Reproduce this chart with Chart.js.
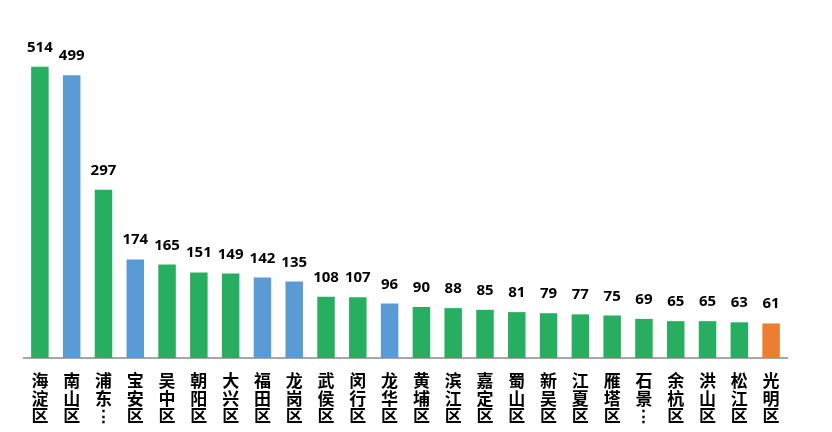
<!DOCTYPE html>
<html>
<head>
<meta charset="utf-8">
<script src="https://cdn.jsdelivr.net/npm/chart.js@4/dist/chart.umd.min.js"></script>
<style>
  html, body { margin: 0; padding: 0; background: #ffffff; }
  #wrap { width: 832px; height: 432px; }
</style>
</head>
<body>
<div id="wrap"><canvas id="c" width="832" height="432"></canvas></div>
<script>
const categories = ['海淀区','南山区','浦东新区','宝安区','吴中区','朝阳区','大兴区','福田区','龙岗区','武侯区','闵行区','龙华区','黄埔区','滨江区','嘉定区','蜀山区','新吴区','江夏区','雁塔区','石景山区','余杭区','洪山区','松江区','光明区'];
const tickLabels = [['海','淀','区'],['南','山','区'],['浦','东','⋮'],['宝','安','区'],['吴','中','区'],['朝','阳','区'],['大','兴','区'],['福','田','区'],['龙','岗','区'],['武','侯','区'],['闵','行','区'],['龙','华','区'],['黄','埔','区'],['滨','江','区'],['嘉','定','区'],['蜀','山','区'],['新','吴','区'],['江','夏','区'],['雁','塔','区'],['石','景','⋮'],['余','杭','区'],['洪','山','区'],['松','江','区'],['光','明','区']];
const values = [514,499,297,174,165,151,149,142,135,108,107,96,90,88,85,81,79,77,75,69,65,65,63,61];
const groups = ['g','b','g','b','g','g','g','b','b','g','g','b','g','g','g','g','g','g','g','g','g','g','g','o'];
const palette = { g: '#27ae60', b: '#5b9bd5', o: '#ed7d31' };

const valueLabels = {
  id: 'valueLabels',
  afterDatasetsDraw(chart) {
    const ctx = chart.ctx;
    const meta = chart.getDatasetMeta(0);
    ctx.save();
    ctx.font = 'bold 15px "Open Sans", "Noto Sans", sans-serif';
    ctx.fillStyle = '#000000';
    ctx.textAlign = 'center';
    ctx.textBaseline = 'alphabetic';
    meta.data.forEach((bar, i) => {
      ctx.fillText(String(values[i]), bar.x, bar.y - 15);
    });
    ctx.restore();
  }
};

new Chart(document.getElementById('c'), {
  type: 'bar',
  data: {
    labels: tickLabels,
    datasets: [{
      data: values,
      backgroundColor: groups.map(g => palette[g]),
      borderWidth: 0,
      categoryPercentage: 1,
      barPercentage: 0.55
    }]
  },
  options: {
    responsive: false,
    animation: false,
    devicePixelRatio: 1,
    layout: { padding: { left: 24, right: 45, top: 18, bottom: 0 } },
    plugins: { legend: { display: false }, tooltip: { enabled: false } },
    scales: {
      x: {
        grid: { display: false },
        border: { display: true, color: '#a6a6a6', width: 2 },
        ticks: {
          autoSkip: false,
          maxRotation: 0,
          minRotation: 0,
          padding: 6,
          color: '#000000',
          font: { family: '"Noto Sans CJK SC", sans-serif', size: 17, weight: 'bold', lineHeight: 1.03 }
        },
        afterFit(scale) { scale.height = 74; }
      },
      y: {
        display: false,
        min: 0,
        max: 600
      }
    }
  },
  plugins: [valueLabels]
});
</script>
</body>
</html>
